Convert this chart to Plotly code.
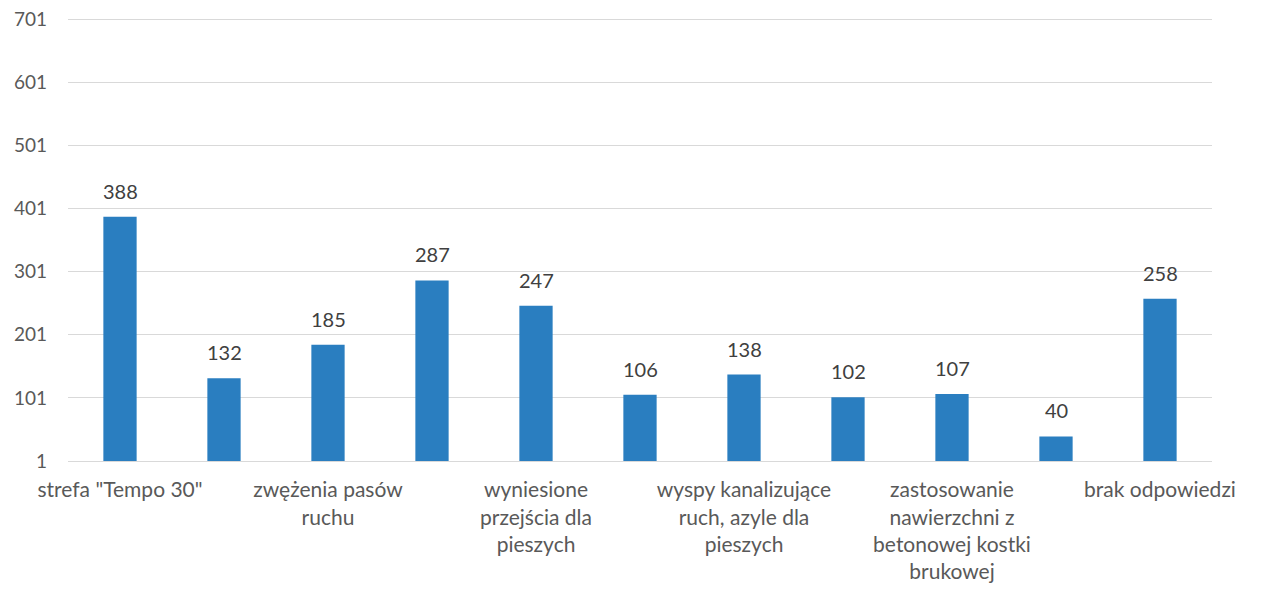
import plotly.graph_objects as go

# wartości słupków (11 kategorii, etykiety osi widoczne co drugą)
values = [388, 132, 185, 287, 247, 106, 138, 102, 107, 40, 258]
labels = ['strefa "Tempo 30"', '', 'zwężenia pasów<br>ruchu', '',
          'wyniesione<br>przejścia dla<br>pieszych', '',
          'wyspy kanalizujące<br>ruch, azyle dla<br>pieszych', '',
          'zastosowanie<br>nawierzchni z<br>betonowej kostki<br>brukowej', '',
          'brak odpowiedzi']
y_ticks = [1, 101, 201, 301, 401, 501, 601, 701]

x_pos = list(range(len(values)))
shown = [i for i in x_pos if labels[i]]

font_family = 'Lato, "Open Sans", sans-serif'

fig = go.Figure()
fig.add_trace(go.Bar(x=x_pos, y=values, marker_color='#2A7EC0',
                     marker_line_width=0, hoverinfo='x+y'))

# etykiety danych nad słupkami
for x, v in zip(x_pos, values):
    fig.add_annotation(x=x, y=v, text=str(v), showarrow=False,
                       yanchor='bottom', yshift=12,
                       font=dict(size=20, color='#404040'))

fig.update_xaxes(tickvals=shown, ticktext=[labels[i] for i in shown],
                 range=[-0.5, len(values) - 0.5], showgrid=False,
                 tickfont=dict(size=21, color='#595959'), ticks='',
                 showline=True, linecolor='#D9D9D9', linewidth=1,
                 ticklabelstandoff=10, automargin=False,
                 ticklabeloverflow='allow')
fig.update_yaxes(tickvals=y_ticks, range=[1, 706], showgrid=True,
                 gridcolor='#D9D9D9', gridwidth=1, zeroline=False,
                 showline=False, ticks='', ticklabelstandoff=20,
                 tickfont=dict(size=19, color='#595959'), automargin=False,
                 ticklabeloverflow='allow')
fig.update_layout(width=1253, height=584, bargap=0.68,
                  plot_bgcolor='white', paper_bgcolor='white',
                  font=dict(family=font_family),
                  showlegend=False,
                  margin=dict(l=60, r=49, t=8, b=131))

fig.write_html("out.html")
